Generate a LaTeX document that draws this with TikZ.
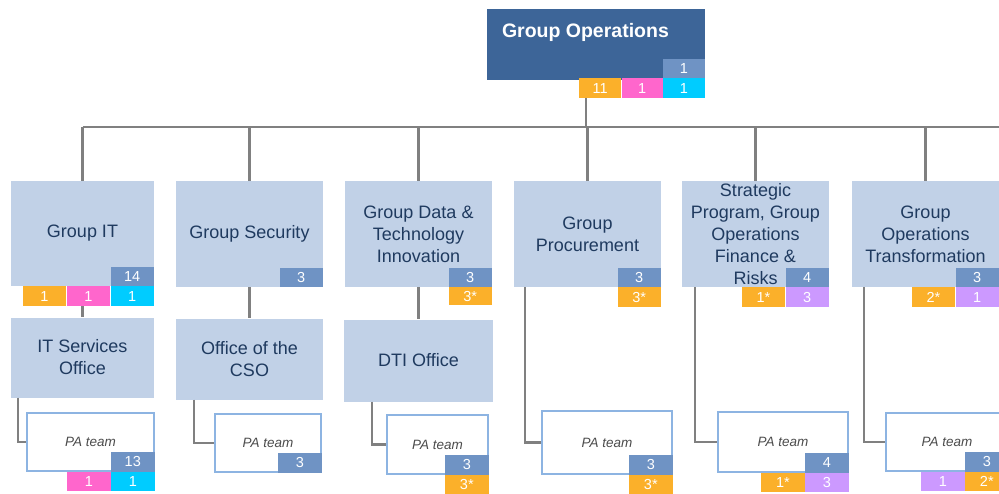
\documentclass[tikz,border=0pt]{standalone}
\usepackage{fontspec}
\setmainfont{Liberation Sans}
\usetikzlibrary{positioning}
\usetikzlibrary{calc}

\definecolor{opsdark}{HTML}{3D6598}
\definecolor{opslight}{HTML}{C1D1E7}
\definecolor{opsbadge}{HTML}{6F93C4}
\definecolor{opsorange}{HTML}{FBB02A}
\definecolor{opspink}{HTML}{FF66CC}
\definecolor{opscyan}{HTML}{00CCFF}
\definecolor{opspurple}{HTML}{CC99FF}
\definecolor{opsline}{HTML}{808080}
\definecolor{opstext}{HTML}{1F3A5F}
\definecolor{paborder}{HTML}{8DB4E2}

\begin{document}
\begin{tikzpicture}[x=1pt, y=-1pt,
  unit/.style={rectangle, fill=opslight, text=opstext, align=center, inner sep=0pt, font=\fontsize{18}{22}\selectfont},
  paunit/.style={rectangle, draw=paborder, line width=1.5pt, fill=white, text=black!70, inner sep=0pt, font=\fontsize{13.5}{16}\selectfont\itshape},
  badge/.style={rectangle, inner sep=0pt, minimum width=43.5pt, minimum height=19.5pt, text=white, font=\fontsize{14.5}{16}\selectfont},
  hc/.style={badge, fill=opsbadge},
  orb/.style={badge, fill=opsorange},
  pkb/.style={badge, fill=opspink},
  cyb/.style={badge, fill=opscyan},
  pub/.style={badge, fill=opspurple},
  link/.style={draw=opsline, line width=2.5pt}]

  \useasboundingbox (0,0) rectangle (999,493);
  \clip (0,0) rectangle (999,493);

  % top unit
  \node[rectangle, fill=opsdark, minimum width=218pt, minimum height=71pt] (go) at (596,44.5) {};
  \node[anchor=base west, inner sep=0pt, text=white, font=\fontsize{19.5}{22}\selectfont\bfseries] (go-title) at ([xshift=15pt, yshift=-29pt]go.north west) {Group Operations};
  \node[hc, minimum width=42pt, anchor=south east] (go-hc) at ([yshift=2pt]go.south east) {1};
  \node[cyb, minimum width=42pt, anchor=north east] (go-c) at (go-hc.south east) {1};
  \node[pkb, minimum width=41pt, left=0pt of go-c] (go-p) {1};
  \node[orb, minimum width=42pt, left=0pt of go-p] (go-o) {11};

  % second level
  \node[unit, minimum width=143pt, minimum height=105pt] (git) at (82.5,233.5) {Group IT};
  \node[unit, minimum width=147pt, minimum height=106pt] (gsec) at (249.5,234) {Group Security};
  \node[unit, minimum width=147pt, minimum height=106pt] (gdti) at (418.5,234) {Group Data \&\\Technology\\Innovation};
  \node[unit, minimum width=147pt, minimum height=106pt] (gproc) at (587.5,234) {Group\\Procurement};
  \node[unit, minimum width=147pt, minimum height=106pt] (gstrat) at (755.5,234) {Strategic\\Program, Group\\Operations\\Finance \&\\Risks};
  \node[unit, minimum width=147pt, minimum height=106pt] (gtrans) at (925.5,234) {Group\\Operations\\Transformation};

  \node[hc, anchor=south east] (git-hc) at (git.south east) {14};
  \node[cyb, anchor=north east] (git-c) at (git.south east) {1};
  \node[pkb, left=0pt of git-c] (git-p) {1};
  \node[orb, left=0pt of git-p] (git-o) {1};

  \node[hc, anchor=south east] (gsec-hc) at (gsec.south east) {3};

  \node[hc, anchor=south east] (gdti-hc) at (gdti.south east) {3};
  \node[orb, minimum height=17.5pt, anchor=north east] (gdti-o) at (gdti.south east) {3*};

  \node[hc, anchor=south east] (gproc-hc) at (gproc.south east) {3};
  \node[orb, anchor=north east] (gproc-o) at (gproc.south east) {3*};

  \node[hc, anchor=south east] (gstrat-hc) at (gstrat.south east) {4};
  \node[pub, anchor=north east] (gstrat-u) at (gstrat.south east) {3};
  \node[orb, left=0pt of gstrat-u] (gstrat-o) {1*};

  \node[hc, anchor=south east] (gtrans-hc) at (gtrans.south east) {3};
  \node[pub, anchor=north east] (gtrans-u) at (gtrans.south east) {1};
  \node[orb, left=0pt of gtrans-u] (gtrans-o) {2*};

  % third level
  \node[unit, minimum width=143pt, minimum height=80pt] (itso) at (82.5,357.5) {IT Services\\Office};
  \node[unit, minimum width=147pt, minimum height=81pt] (cso) at (249.5,359) {Office of the\\CSO};
  \node[unit, minimum width=149pt, minimum height=82pt] (dti) at (418.5,360.5) {DTI Office};

  % PA teams
  \node[paunit, minimum width=127pt, minimum height=58pt] (itpa) at (90.5,442) {PA team};
  \node[paunit, minimum width=106pt, minimum height=58pt] (csopa) at (268,443) {PA team};
  \node[paunit, minimum width=101pt, minimum height=59pt] (dtipa) at (437.5,444.5) {PA team};
  \node[paunit, minimum width=130pt, minimum height=63pt] (procpa) at (607,442.5) {PA team};
  \node[paunit, minimum width=130pt, minimum height=60pt] (stratpa) at (783,442) {PA team};
  \node[paunit, minimum width=122pt, minimum height=58pt] (transpa) at (947,442) {PA team};

  \node[hc, anchor=south east] (itpa-hc) at (itpa.south east) {13};
  \node[cyb, anchor=north east] (itpa-c) at (itpa.south east) {1};
  \node[pkb, left=0pt of itpa-c] (itpa-p) {1};

  \node[hc, anchor=south east] (csopa-hc) at (csopa.south east) {3};

  \node[hc, anchor=south east] (dtipa-hc) at (dtipa.south east) {3};
  \node[orb, anchor=north east] (dtipa-o) at (dtipa.south east) {3*};

  \node[hc, anchor=south east] (procpa-hc) at (procpa.south east) {3};
  \node[orb, anchor=north east] (procpa-o) at (procpa.south east) {3*};

  \node[hc, anchor=south east] (stratpa-hc) at (stratpa.south east) {4};
  \node[pub, anchor=north east] (stratpa-u) at (stratpa.south east) {3};
  \node[orb, left=0pt of stratpa-u] (stratpa-o) {1*};

  \node[hc, anchor=south east] (transpa-hc) at (transpa.south east) {3};
  \node[orb, anchor=north east] (transpa-o) at (transpa.south east) {2*};
  \node[pub, left=0pt of transpa-o] (transpa-u) {1};

  % connectors
  \coordinate (bus) at (586,127);
  \coordinate (bus-end) at (999,127);
  \draw[link] (go-o.south -| bus) -- (bus);
  \draw[link] (git.north |- bus) -- (bus-end);
  \foreach \u in {git,gsec,gdti,gproc,gstrat,gtrans} {
    \draw[link] (\u.north |- bus) -- (\u.north);
  }

  \draw[link] (git-p.south -| git.south) -- (itso.north);
  \draw[link] (gsec.south) -- (cso.north);
  \draw[link] (gdti.south) -- (dti.north);

  \draw[link] ([xshift=7pt]itso.south west) |- (itpa.west);
  \draw[link] ([xshift=18pt]cso.south west) |- (csopa.west);
  \draw[link] ([xshift=28pt]dti.south west) |- (dtipa.west);
  \draw[link] ([xshift=11pt]gproc.south west) |- (procpa.west);
  \draw[link] ([xshift=13pt]gstrat.south west) |- (stratpa.west);
  \draw[link] ([xshift=12pt]gtrans.south west) |- (transpa.west);
\end{tikzpicture}
\end{document}
